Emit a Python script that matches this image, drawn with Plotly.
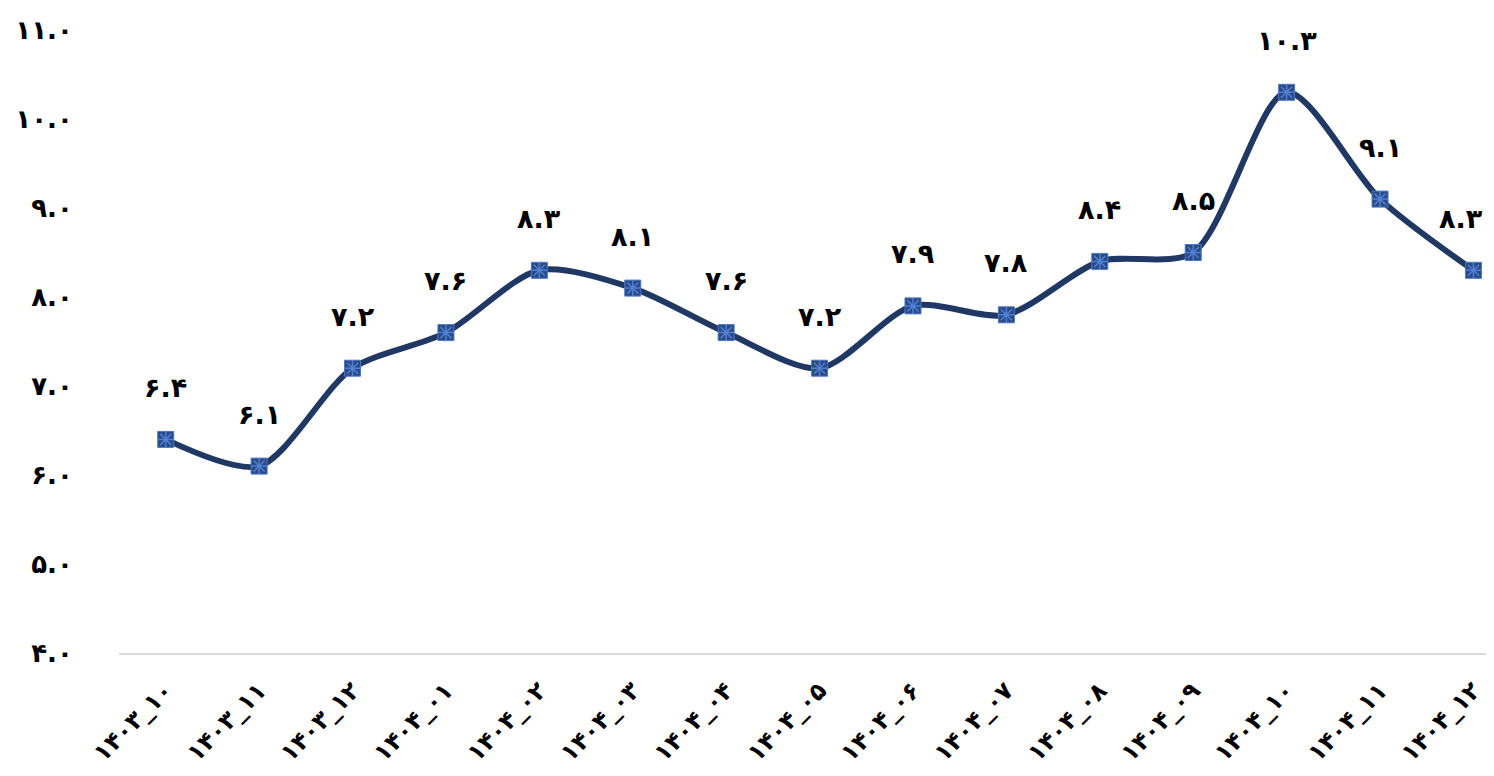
import plotly.graph_objects as go

# monthly values (Persian calendar months)
months = ['۱۴۰۳_۱۰', '۱۴۰۳_۱۱', '۱۴۰۳_۱۲', '۱۴۰۴_۰۱', '۱۴۰۴_۰۲', '۱۴۰۴_۰۳', '۱۴۰۴_۰۴',
          '۱۴۰۴_۰۵', '۱۴۰۴_۰۶', '۱۴۰۴_۰۷', '۱۴۰۴_۰۸', '۱۴۰۴_۰۹', '۱۴۰۴_۱۰', '۱۴۰۴_۱۱', '۱۴۰۴_۱۲']
values = [6.4, 6.1, 7.2, 7.6, 8.3, 8.1, 7.6, 7.2, 7.9, 7.8, 8.4, 8.5, 10.3, 9.1, 8.3]
value_labels = ['۶.۴', '۶.۱', '۷.۲', '۷.۶', '۸.۳', '۸.۱', '۷.۶', '۷.۲', '۷.۹', '۷.۸',
                '۸.۴', '۸.۵', '۱۰.۳', '۹.۱', '۸.۳']
y_ticks = [4, 5, 6, 7, 8, 9, 10, 11]
y_tick_labels = ['۴.۰', '۵.۰', '۶.۰', '۷.۰', '۸.۰', '۹.۰', '۱۰.۰', '۱۱.۰']

font = 'DejaVu Sans'
x_idx = list(range(len(months)))

fig = go.Figure()

# smooth line
fig.add_trace(go.Scatter(
    x=x_idx, y=values, mode='lines',
    line=dict(color='#203864', width=6, shape='spline', smoothing=0.8),
    hoverinfo='skip', showlegend=False,
))
# square markers
fig.add_trace(go.Scatter(
    x=x_idx, y=values, mode='markers',
    marker=dict(symbol='square', size=16, color='#2B4A85',
                line=dict(color='#4A78C8', width=1)),
    showlegend=False,
))
# asterisk on top of squares
fig.add_trace(go.Scatter(
    x=x_idx, y=values, mode='markers',
    marker=dict(symbol='asterisk-open', size=13, color='#4F80D4',
                line=dict(color='#4F80D4', width=1.5)),
    hoverinfo='skip', showlegend=False,
))

# data labels
for i, (v, t) in enumerate(zip(values, value_labels)):
    fig.add_annotation(x=i, y=v, text='<b>' + t + '</b>', showarrow=False,
                       yshift=52, xshift=-12 if i == len(values) - 1 else 0,
                       font=dict(family=font, size=27, color='#000000'))

# page body adds 8px margin, so figure is a bit smaller than the window
fig.update_layout(
    width=1486, height=768,
    margin=dict(l=111, r=0, t=22, b=123),
    plot_bgcolor='white', paper_bgcolor='white',
    font=dict(family=font, color='#000000'),
    xaxis=dict(
        range=[-0.5, 14.22],
        tickvals=x_idx,
        ticktext=['<b>' + m + '</b>' for m in months],
        tickangle=-45,
        tickfont=dict(family=font, size=24, color='#000000'),
        showgrid=False, zeroline=False, automargin=False,
        showline=True, linecolor='#D9D9D9', linewidth=1.5,
        ticks='outside', ticklen=12, tickcolor='rgba(0,0,0,0)',
    ),
    yaxis=dict(
        range=[4, 11],
        tickvals=y_ticks,
        ticktext=['<b>' + t + '</b>' for t in y_tick_labels],
        tickfont=dict(family=font, size=26, color='#000000'),
        showgrid=False, zeroline=False, showline=False, automargin=False,
        ticks='outside', ticklen=40, tickcolor='rgba(0,0,0,0)',
    ),
)

fig.write_html('out.html')
